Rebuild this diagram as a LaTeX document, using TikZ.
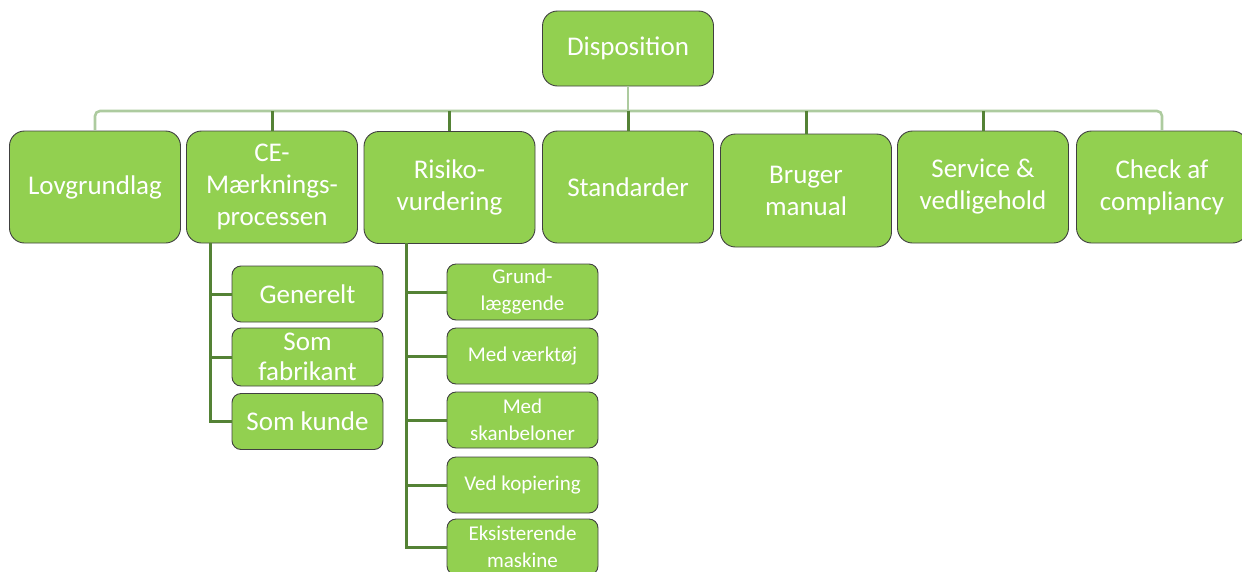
\documentclass[tikz,border=0pt]{standalone}
\usepackage{fontspec}
\setmainfont{Carlito}
\definecolor{boxgreen}{HTML}{92D050}
\definecolor{boxline}{HTML}{404040}
\definecolor{linkdark}{HTML}{548235}
\definecolor{linklight}{HTML}{ADCB9F}

\begin{document}
\begin{tikzpicture}[x=1pt, y=-1pt,
    box/.style={draw=boxline, line width=0.9pt, fill=boxgreen, text=white,
      rounded corners=15pt, align=center, inner sep=0pt,
      minimum width=171pt, minimum height=112pt,
      font=\fontsize{27}{32}\selectfont},
    subbox/.style={box, rounded corners=9pt, minimum width=151pt,
      minimum height=56pt, font=\fontsize{27}{30}\selectfont},
    smallbox/.style={subbox, font=\fontsize{21}{27}\selectfont},
    darklink/.style={draw=linkdark, line width=3pt},
    lightlink/.style={draw=linklight, line width=2.6pt, rounded corners=5pt}]
  \useasboundingbox (0,0) rectangle (1242,571);

  % Kasser
  \node[box, minimum height=75pt] (dispo) at (628,48.5) {Disposition};

  \node[box] (lov)     at (95,187)    {Lovgrundlag};
  \node[box] (ce)      at (272,187)   {CE-\\Mærknings-\\processen};
  \node[box] (risiko)  at (449.5,187.5) {Risiko-\\vurdering};
  \node[box] (std)     at (628,187)   {Standarder};
  \node[box, minimum height=113pt] (bruger) at (806,190.5) {Bruger\\manual};
  \node[box] (service) at (983,187)   {Service \&\\vedligehold};
  \node[box] (check)   at (1162,187)  {Check af\\compliancy};

  \node[subbox] (gen)   at (307.5,294)   {Generelt};
  \node[subbox, minimum height=58pt] (fab) at (307.5,357) {Som\\fabrikant};
  \node[subbox] (kunde) at (307.5,421.5) {Som kunde};

  \node[smallbox] (grund) at (522.5,292) {Grund-\\læggende};
  \node[smallbox] (vaerk) at (522.5,356) {Med værktøj};
  \node[smallbox] (skan)  at (522.5,420) {Med\\skanbeloner};
  \node[smallbox] (kopi)  at (522.5,485) {Ved kopiering};
  \node[smallbox] (eksist) at (522.5,547) {Eksisterende\\maskine};

  % Forbindelser
  \coordinate (bar) at (0,111);
  \coordinate (cebus) at (210,243);
  \coordinate (riskbus) at (406,243);

  \draw[lightlink] (dispo.south) -- (dispo.south |- bar);
  \draw[lightlink] (lov.north) -- (lov.north |- bar) -- (check.north |- bar) -- (check.north);

  \foreach \n in {ce,risiko,std,bruger,service}
    \draw[darklink] (\n.north) -- (\n.north |- bar);

  \foreach \n in {gen,fab,kunde}
    \draw[darklink] (cebus) |- (\n.west);

  \foreach \n in {grund,vaerk,skan,kopi,eksist}
    \draw[darklink] (riskbus) |- (\n.west);
\end{tikzpicture}
\end{document}
